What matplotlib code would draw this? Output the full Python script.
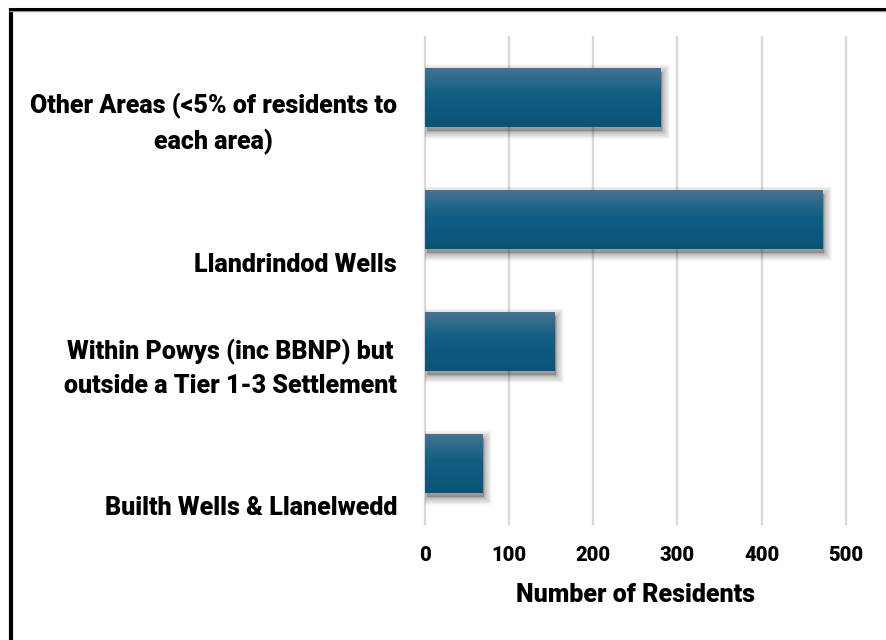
import matplotlib
matplotlib.use("Agg")
import matplotlib.pyplot as plt
import numpy as np
from matplotlib.colors import LinearSegmentedColormap
from matplotlib.lines import Line2D
from matplotlib.patches import Rectangle
from matplotlib import transforms

# data (bottom to top)
categories = [
    "Builth Wells & Llanelwedd",
    "Within Powys (inc BBNP) but\noutside a Tier 1-3 Settlement",
    "Llandrindod Wells",
    "Other Areas (<5% of residents to\neach area)",
]
residents = [68, 154, 471, 279]
x_ticks = [0, 100, 200, 300, 400, 500]

plt.rcParams["font.family"] = ["Roboto", "DejaVu Sans"]
plt.rcParams["font.weight"] = "bold"

W, H = 886, 640
fig = plt.figure(figsize=(W / 100, H / 100), dpi=100)
ax = fig.add_axes([424.5 / W, 1 - 524 / H, (846 - 424.5) / W, (524 - 37) / H])

bar_h = 0.485
grad = LinearSegmentedColormap.from_list(
    "bar", [(0.0, "#4a7391"), (0.45, "#105f83"), (1.0, "#0a5377")]
)
gimg = np.linspace(0, 1, 256).reshape(-1, 1)

for i, val in enumerate(residents):
    y0 = i - bar_h / 2
    # soft drop shadow
    off = transforms.offset_copy(ax.transData, fig=fig, x=2.0, y=-4.0, units="dots")
    for k in range(10):
        grow = (10 - k) * 1.1
        sh = Rectangle((0, y0), val, bar_h, transform=off, facecolor="black",
                       edgecolor="black", linewidth=grow, alpha=0.028, zorder=2)
        ax.add_patch(sh)
    rect = Rectangle((0, y0), val, bar_h, facecolor="none", edgecolor="none", zorder=3)
    ax.add_patch(rect)
    im = ax.imshow(gimg, cmap=grad, aspect="auto", extent=(0, val, y0, y0 + bar_h),
                   zorder=3, interpolation="bilinear")
    im.set_clip_path(rect)

ax.set_xlim(0, 500)
ax.set_ylim(-0.5, 3.5)
ax.set_xticks(x_ticks)
ax.set_yticks([])
ax.tick_params(axis="x", length=0, pad=16, labelsize=14.5)
for lbl in ax.get_xticklabels():
    lbl.set_fontweight("black")
for s in ax.spines.values():
    s.set_visible(False)
ax.grid(axis="x", color="#d9d9d9", linewidth=1.7, zorder=0)
for gl in ax.get_xgridlines():
    gl.set_clip_on(False)
ax.set_axisbelow(True)
ax.set_xlabel("Number of Residents", fontsize=18, fontweight="black", labelpad=13)

for i, name in enumerate(categories):
    ax.annotate(name, xy=(0, i - bar_h / 2), xycoords=("axes fraction", "data"),
                xytext=(-27.5, -27.5), textcoords="offset pixels",
                ha="right", va="bottom", multialignment="center",
                fontsize=18, fontweight="black", linespacing=1.5)

# partial frame (left and top edges)
fig.add_artist(Line2D([11 / W, 11 / W], [0, 1 - 8 / H], transform=fig.transFigure,
                      color="black", linewidth=3.0, solid_capstyle="butt"))
fig.add_artist(Line2D([9 / W, 1], [1 - 10.5 / H, 1 - 10.5 / H], transform=fig.transFigure,
                      color="#9a9a9a", linewidth=1.0, solid_capstyle="butt"))
fig.add_artist(Line2D([9 / W, 1], [1 - 9 / H, 1 - 9 / H], transform=fig.transFigure,
                      color="black", linewidth=2.2, solid_capstyle="butt"))

fig.savefig("out.png", dpi=100)
